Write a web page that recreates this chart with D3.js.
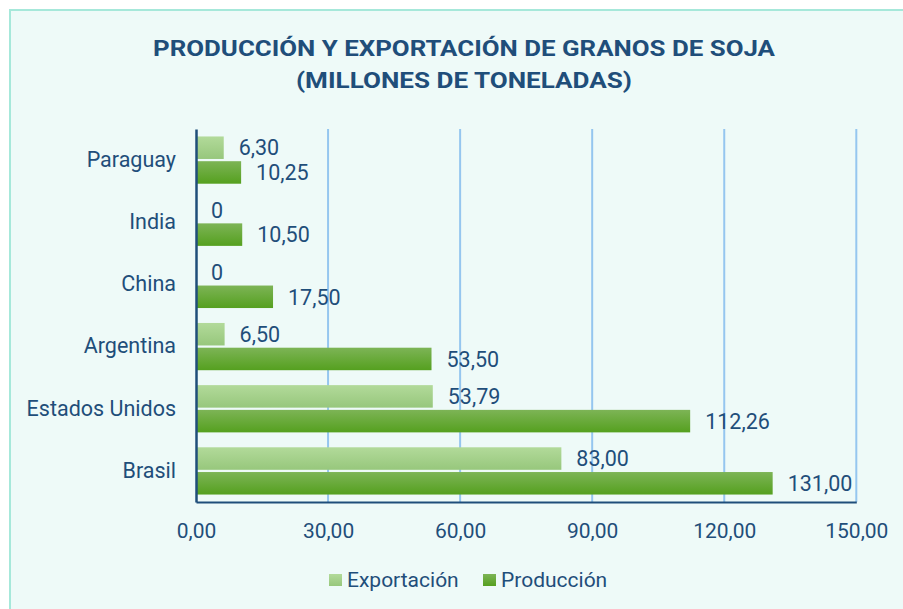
<!DOCTYPE html>
<html>
<head>
<meta charset="utf-8">
<script src="https://cdn.jsdelivr.net/npm/d3@7"></script>
<style>
  body { margin: 0; background: #fff; }
  svg text { font-family: Roboto, "Noto Sans", sans-serif; }
</style>
</head>
<body>
<div id="chart"></div>
<script>
// chart data
var countries = ['Paraguay', 'India', 'China', 'Argentina', 'Estados Unidos', 'Brasil'],
    exportacion = [6.30, 0, 0, 6.50, 53.79, 83.00],
    produccion = [10.25, 10.50, 17.50, 53.50, 112.26, 131.00],
    ticks = [0, 30, 60, 90, 120, 150],
    seriesNames = ['Exportación', 'Producción']

var width = 903,
    height = 609,
    margin = {top: 129, right: 46, bottom: 107, left: 196}

var textColor = '#1f4e7a'

const svg = d3.select(document.getElementById('chart'))
    .append('svg')
    .attr('width', width)
    .attr('height', height)

var defs = svg.append('defs')
function grad (id, c1, c2) {
    var g = defs.append('linearGradient').attr('id', id)
        .attr('x1', 0).attr('y1', 0).attr('x2', 0).attr('y2', 1)
    g.append('stop').attr('offset', '0%').attr('stop-color', c1)
    g.append('stop').attr('offset', '100%').attr('stop-color', c2)
}
grad('gExp', '#b2da9a', '#97c77c')
grad('gProd', '#7db456', '#55a01f')

// panel background + border (only top/left border visible)
svg.append('rect')
    .attr('x', 10).attr('y', 10)
    .attr('width', width).attr('height', height)
    .attr('fill', '#eefaf8')
    .attr('stroke', '#a6e8da')
    .attr('stroke-width', 2)

// title
var title = svg.append('text')
    .attr('text-anchor', 'middle')
    .attr('fill', textColor)
    .style('font-weight', 'bold')
    .style('font-size', '22.5px')
title.append('tspan').attr('x', 464).attr('y', 56)
    .attr('textLength', 622).attr('lengthAdjust', 'spacingAndGlyphs')
    .text('PRODUCCIÓN Y EXPORTACIÓN DE GRANOS DE SOJA')
title.append('tspan').attr('x', 464).attr('y', 88)
    .attr('textLength', 336).attr('lengthAdjust', 'spacingAndGlyphs')
    .text('(MILLONES DE TONELADAS)')

const xScale = d3.scaleLinear()
    .domain([0, 150])
    .range([margin.left, width - margin.right - 0.7])

const yScale = d3.scaleBand()
    .domain(countries)
    .range([margin.top, height - margin.bottom])
    .paddingInner(0.24)
    .paddingOuter(0.12)

// sub band inside each category
const sub = d3.scaleBand()
    .domain(seriesNames)
    .range([0, yScale.bandwidth()])
    .paddingInner(0.09)

// gridlines
svg.append('g')
    .selectAll('line')
    .data(ticks.slice(1))
    .enter()
    .append('line')
    .attr('x1', d => xScale(d)).attr('x2', d => xScale(d))
    .attr('y1', margin.top).attr('y2', height - margin.bottom)
    .attr('stroke', '#95c6ef')
    .attr('stroke-width', 2)

var series = [exportacion, produccion]
var fills = ['url(#gExp)', 'url(#gProd)']

series.forEach(function (vals, s) {
    var g = svg.append('g')
    g.selectAll('rect')
        .data(vals)
        .enter()
        .append('rect')
        .attr('x', xScale(0))
        .attr('y', (d, i) => yScale(countries[i]) + sub(seriesNames[s]))
        .attr('width', d => xScale(d) - xScale(0))
        .attr('height', sub.bandwidth())
        .attr('fill', fills[s])

    g.selectAll('text')
        .data(vals)
        .enter()
        .append('text')
        .attr('x', d => xScale(d) + 15)
        .attr('y', (d, i) => yScale(countries[i]) + sub(seriesNames[s]) + sub.bandwidth() / 2)
        .attr('dy', '0.36em')
        .attr('fill', textColor)
        .style('font-size', '21.5px')
        .text(d => d === 0 ? '0' : d.toFixed(2).replace('.', ','))
})

// axes
const xAxis = d3.axisBottom(xScale)
    .tickValues(ticks)
    .tickSize(0)
    .tickPadding(21)
    .tickFormat(d => d.toFixed(2).replace('.', ','))

const yAxis = d3.axisLeft(yScale).tickSize(0).tickPadding(20)

var gx = svg.append('g')
    .attr('transform', 'translate(0,' + (height - margin.bottom) + ')')
    .call(xAxis)
gx.select('.domain').attr('stroke', textColor).attr('stroke-width', 2)
gx.selectAll('text').attr('fill', textColor).style('font-size', '21px')

var gy = svg.append('g')
    .attr('transform', 'translate(' + margin.left + ',0)')
    .call(yAxis)
gy.select('.domain').attr('stroke', textColor).attr('stroke-width', 2.5)
gy.selectAll('text').attr('fill', textColor).style('font-size', '21.5px')

// legend
var legend = svg.append('g')
var legendX = [329, 483]
seriesNames.forEach(function (n, i) {
    legend.append('rect')
        .attr('x', legendX[i]).attr('y', 574)
        .attr('width', 13).attr('height', 12)
        .attr('fill', fills[i])
    legend.append('text')
        .attr('x', legendX[i] + 18).attr('y', 579)
        .attr('dy', '0.36em')
        .attr('fill', textColor)
        .style('font-size', '21px')
        .text(n)
})
</script>
</body>
</html>
